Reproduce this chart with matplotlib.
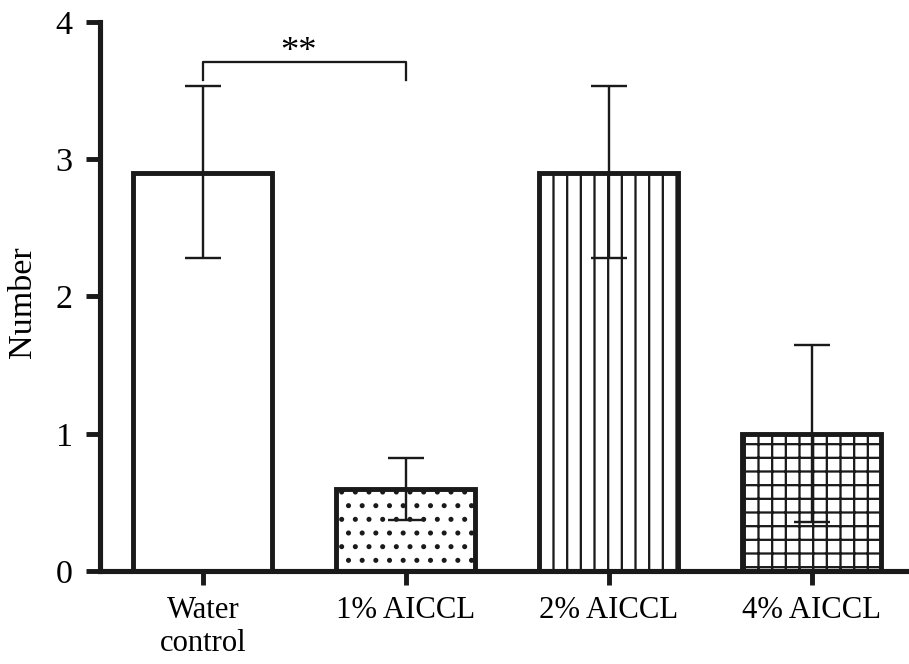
import numpy as np
import matplotlib
matplotlib.use('Agg')
import matplotlib.pyplot as plt

# data
groups = ['Water\ncontrol', '1% AICCL', '2% AICCL', '4% AICCL']
means = [2.9, 0.6, 2.9, 1.0]
err_low = [0.62, 0.23, 0.62, 0.64]
err_high = [0.63, 0.22, 0.63, 0.65]
hatches = ['', '.', '|', '+']
yticks = [0, 1, 2, 3, 4]

# significance bracket between group 0 and 1
sig_pair = (0, 1)
sig_text = '**'
sig_y = 3.71
sig_leg = 3.58

DPI = 82  # chosen so default hatch spacing matches the original


def make_plot():
    plt.rcParams['font.family'] = ['Liberation Serif', 'DejaVu Serif']
    plt.rcParams['hatch.linewidth'] = 2.0
    plt.rcParams['hatch.color'] = 'black'

    fig = plt.figure(figsize=(909 / DPI, 664 / DPI), dpi=DPI)
    ax = fig.add_axes([0.110, 0.140, 0.890, 0.827])

    x = np.arange(len(groups))
    ax.bar(x, means, width=0.685, color='white', edgecolor='#1a1a1a',
           linewidth=4.3, hatch=hatches, zorder=2)
    ax.errorbar(x, means, yerr=[err_low, err_high], fmt='none',
                ecolor='#1a1a1a', elinewidth=2.1, capsize=15.5,
                capthick=2.1, zorder=3)

    # significance bracket
    x0, x1 = sig_pair
    ax.plot([x0, x0, x1, x1], [sig_leg, sig_y, sig_y, sig_leg],
            color='#1a1a1a', lw=2.0, clip_on=False)
    ax.text(0.47, sig_y - 0.05, sig_text, ha='center', va='bottom',
            fontsize=32)

    ax.set_xlim(-0.507, 3.48)
    ax.set_ylim(0, 4)
    ax.set_yticks(yticks)
    ax.set_xticks(x)
    ax.set_xticklabels(groups, fontsize=27, linespacing=1.2)
    ax.tick_params(axis='y', labelsize=30, width=4.3, length=12, pad=12,
                   color='#1a1a1a')
    ax.tick_params(axis='x', width=4.3, length=12, pad=10, color='#1a1a1a')

    ax.set_ylabel('Number', fontsize=30)
    ax.yaxis.set_label_coords(-0.077, 0.49)

    for s in ['top', 'right']:
        ax.spines[s].set_visible(False)
    for s in ['left', 'bottom']:
        ax.spines[s].set_linewidth(4.5)
        ax.spines[s].set_color('#1a1a1a')

    fig.savefig('out.png', dpi=DPI)


def main():
    make_plot()

main()
